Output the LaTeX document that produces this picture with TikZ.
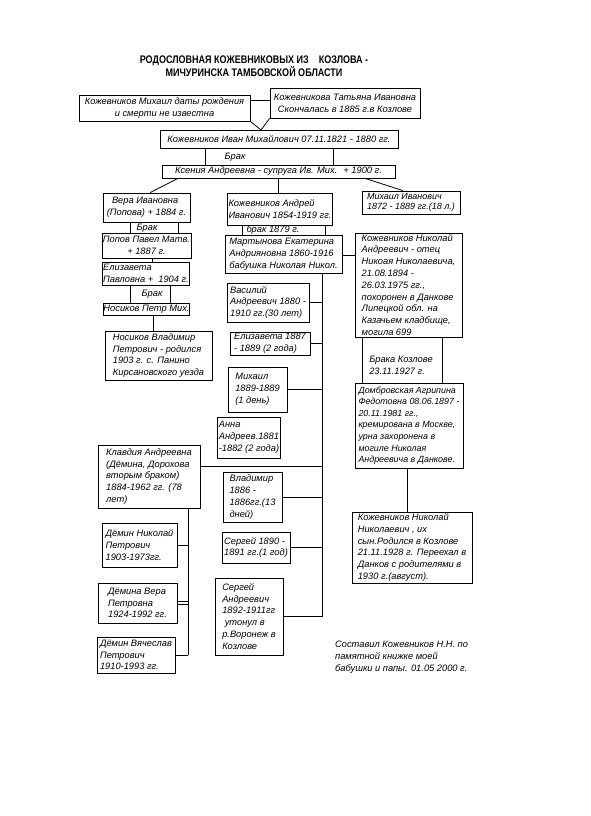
\documentclass[tikz,border=0pt]{standalone}
\usepackage{fontspec}
\setmainfont{Liberation Sans}
\newfontfamily\titlefont[FakeStretch=0.82]{Liberation Sans}
\tikzset{
  pbox/.style={draw, line width=0.8pt, inner sep=1pt, font=\itshape\fontsize{9.3}{11.8}\selectfont},
  lbl/.style={inner sep=0pt, font=\itshape\fontsize{9.3}{11.8}\selectfont},
  conn/.style={line width=0.8pt},
}
\newcommand\pbox[7][]{%
  \pgfmathsetmacro\pbW{#5-#3}%
  \pgfmathsetmacro\pbH{#6-#4}%
  \node[pbox,minimum width=\pbW pt,minimum height=\pbH pt,align=left,#1] (#2) at ({(#3+#5)/2},{(#4+#6)/2}) {#7};}
\begin{document}
\begin{tikzpicture}[x=1pt,y=-1pt]
\fill[white] (0,0) rectangle (591,816);
\useasboundingbox (0,0) rectangle (591,816);

\node[font=\titlefont\bfseries\fontsize{11}{13}\selectfont, align=center, inner sep=0pt] (title) at (254,66)
  {РОДОСЛОВНАЯ КОЖЕВНИКОВЫХ ИЗ \ \ \ КОЗЛОВА -\\МИЧУРИНСКА ТАМБОВСКОЙ ОБЛАСТИ};

\pbox[align=center]{mikh}{79}{95}{250}{121}{Кожевников Михаил даты рождения\\и смерти не известна}
\pbox[align=center]{tat}{270}{88}{420}{118}{Кожевникова Татьяна Ивановна\\Скончалась в 1885 г.в Козлове}
\pbox{ivan}{160}{130}{398}{148}{Кожевников Иван Михайлович 07.11.1821 - 1880 гг.}
\pbox[inner sep=0pt]{ks}{162}{165}{395}{178}{Ксения Андреевна - супруга Ив. Мих. \ + 1900 г.}

\pbox{vera}{103}{193}{190}{222}{\ \ Вера Ивановна\\(Попова) + 1884 г.}
\pbox[align=center]{popov}{103}{233}{190}{258}{Попов Павел Матв.\\+ 1887 г.}
\pbox{eliz}{105}{262}{187}{285}{Елизавета\\Павловна + \ 1904 г.}
\pbox[inner sep=0pt]{nosp}{105}{303}{188}{315}{Носиков Петр Мих.}
\pbox{nosv}{105}{331}{212}{380}{Носиков Владимир\\Петрович - родился\\1903 г. с. Панино\\Кирсановского уезда}

\pbox{andr}{228}{193}{332}{225}{Кожевников Андрей\\Иванович 1854-1919 гг.}
\pbox{mart}{225}{235}{342}{273}{Мартынова Екатерина\\Андрияновна 1860-1916\\бабушка Николая Никол.}
\pbox[inner sep=0pt, font=\itshape\fontsize{9}{10.5}\selectfont]{mihi}{362}{191}{460}{214}{Михаил Иванович\\1872 - 1889 гг.(18 л.)}
\pbox{nik}{355}{233}{462}{337}{Кожевников Николай\\Андреевич - отец\\Никоая Николаевича,\\21.08.1894 -\\26.03.1975 гг.,\\похоронен в Данкове\\Липецкой обл. на\\Казачьем кладбище,\\могила 699}

\pbox{vas}{227}{283}{309}{322}{Василий\\Андреевич 1880 -\\1910 гг.(30 лет)}
\pbox{el2}{230}{332}{310}{355}{Елизавета 1887\\- 1889 (2 года)}
\pbox{mih2}{228}{367}{287}{412}{Михаил\\1889-1889\\(1 день)}
\pbox{anna}{218}{417}{280}{458}{Анна\\Андреев.1881\\-1882 (2 года)}
\pbox{klav}{98}{445}{200}{508}{Клавдия Андреевна\\(Дёмина, Дорохова\\вторым браком)\\1884-1962 гг. (78\\лет)}
\pbox{dn}{102}{523}{177}{567}{Дёмин Николай\\Петрович\\1903-1973гг.}
\pbox{dv}{98}{583}{177}{623}{Дёмина Вера\\Петровна\\1924-1992 гг.}
\pbox{dvy}{97}{637}{175}{673}{Дёмин Вячеслав\\Петрович\\1910-1993 гг.}
\pbox{vlad}{223}{472}{282}{522}{Владимир\\1886 -\\1886гг.(13\\дней)}
\pbox{serg}{222}{532}{290}{563}{Сергей 1890 -\\1891 гг.(1 год)}
\pbox{sera}{215}{578}{283}{655}{Сергей\\Андреевич\\1892-1911гг\\\ утонул в\\р.Воронеж в\\Козлове}
\pbox[inner sep=0pt, font=\itshape\fontsize{8.9}{11.6}\selectfont]{dom}{355}{383}{463}{468}{Домбровская Агрипина\\Федотовна 08.06.1897 -\\20.11.1981 гг.,\\кремирована в Москве,\\урна захоронена в\\могиле Николая\\Андреевича в Данкове.}
\pbox[inner sep=0pt]{nn}{352}{512}{472}{583}{Кожевников Николай\\Николаевич , их\\сын.Родился в Козлове\\21.11.1928 г. Переехал в\\Данков с родителями в\\1930 г.(август).}

\node[lbl] (brak1) at (235,157) {Брак};
\node[lbl] (brak2) at (147,228) {Брак};
\node[lbl] (brak3) at (152,294) {Брак};
\node[lbl] (brak4) at (273,230) {брак 1879 г.};
\node[lbl, align=left] (brak5) at (401,365) {Брака Козлове\\23.11.1927 г.};
\node[lbl, align=left, anchor=north west] (note) at (335,641) {Составил Кожевников Н.Н. по\\памятной книжке моей\\бабушки и папы. 01.05 2000 г.};

% connectors
\coordinate (apex) at (261,130);
\draw[conn] (mikh.east |- 0,100) -- (tat.west |- 0,100);
\draw[conn] (mikh.south east) -- (apex) -- (tat.south west);
\draw[conn] (ivan.south -| 205,0) -- (ks.north -| 205,0);
\draw[conn] (ivan.south -| 333,0) -- (ks.north -| 333,0);
\draw[conn] (ks.south -| 178,0) -- (vera.north -| 150,0);
\draw[conn] (ks.south -| 278,0) -- (andr.north -| 278,0);
\draw[conn] (ks.south -| 365,0) -- (mihi.north -| 403,0);

\draw[conn] (vera.south -| 130,0) -- (popov.north -| 130,0);
\draw[conn] (vera.south -| 178,0) -- (popov.north -| 178,0);
\draw[conn] (popov.south -| 152,0) -- (eliz.north -| 152,0);
\draw[conn] (eliz.south -| 130,0) -- (nosp.north -| 130,0);
\draw[conn] (eliz.south -| 170,0) -- (nosp.north -| 170,0);
\draw[conn] (nosp.south -| 153,0) -- (nosv.north -| 153,0);

\draw[conn] (andr.south -| 242,0) -- (mart.north -| 242,0);
\draw[conn] (andr.south -| 325,0) -- (mart.north -| 325,0);
\draw[conn] (mart.east |- 0,255) -- (nik.west |- 0,255);

\coordinate (sp) at (322,0);
\draw[conn] (mart.south -| sp) -- (sera.east -| sp);
\draw[conn] (vas.east) -- (vas.east -| sp);
\draw[conn] (el2.east) -- (el2.east -| sp);
\draw[conn] (mih2.east) -- (mih2.east -| sp);
\draw[conn] (klav.east |- 0,466) -- (sp |- 0,466);
\draw[conn] (vlad.east) -- (vlad.east -| sp);
\draw[conn] (serg.east) -- (serg.east -| sp);
\draw[conn] (sera.east) -- (sera.east -| sp);

\coordinate (ksp) at (188,0);
\draw[conn] (klav.south -| ksp) -- (dvy.east -| ksp);
\draw[conn] (dn.east) -- (dn.east -| ksp);
\draw[conn] ([yshift=1.5pt]dv.east) -- ([yshift=1.5pt]dv.east -| ksp);
\draw[conn] ([yshift=-1.5pt]dv.east) -- ([yshift=-1.5pt]dv.east -| ksp);
\draw[conn] (dvy.east) -- (dvy.east -| ksp);

\draw[conn] (nik.south -| 362,0) -- (dom.north -| 362,0);
\draw[conn] (nik.south -| 442,0) -- (dom.north -| 442,0);
\draw[conn] (dom.south -| 407,0) -- (nn.north -| 407,0);
\end{tikzpicture}
\end{document}
